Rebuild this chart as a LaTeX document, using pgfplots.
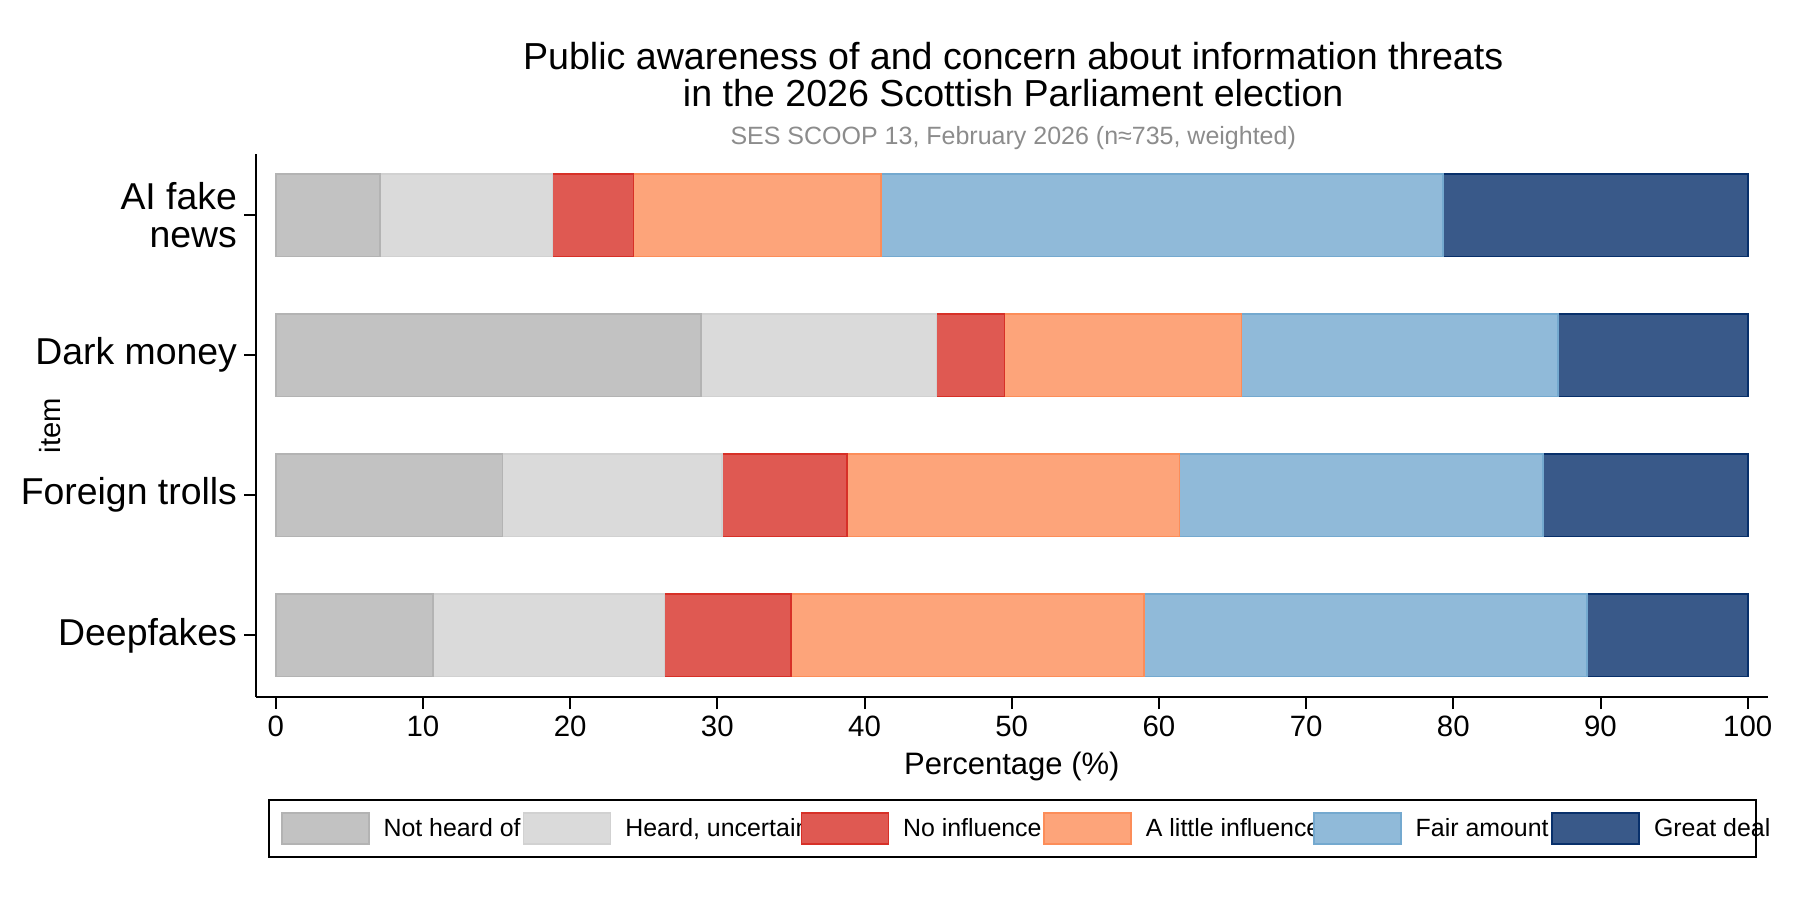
\documentclass[border=0pt]{standalone}
\usepackage{fontspec}
\setmainfont{Liberation Sans}
\usepackage{pgfplots}
\pgfplotsset{compat=1.18}
\definecolor{cNot}{RGB}{179,179,179}
\definecolor{cHeard}{RGB}{209,209,209}
\definecolor{cNo}{RGB}{215,48,39}
\definecolor{cLittle}{RGB}{252,141,89}
\definecolor{cFair}{RGB}{116,169,207}
\definecolor{cGreat}{RGB}{8,48,107}
\definecolor{subgrey}{RGB}{140,140,140}
\begin{document}
\begin{tikzpicture}
\useasboundingbox (0,0) rectangle (900bp,450bp);
\node[anchor=base, font=\fontsize{18.8bp}{20bp}\selectfont] at (506.6bp,415.0bp) {Public awareness of and concern about information threats};
\node[anchor=base, font=\fontsize{18.8bp}{20bp}\selectfont] at (506.6bp,396.8bp) {in the 2026 Scottish Parliament election};
\node[anchor=base, font=\fontsize{12.5bp}{14bp}\selectfont, text=subgrey] at (506.6bp,377.7bp) {SES SCOOP 13, February 2026 (n≈735, weighted)};
\begin{axis}[
  at={(128bp,101.5bp)}, anchor=south west,
  scale only axis, width=755.85bp, height=271.5bp,
  xbar stacked, bar width=0.59,
  xmin=-1.34, xmax=101.36, ymin=-0.44, ymax=3.436,
  axis lines*=left,
  axis line style={line width=1bp, black},
  tick align=outside,
  major tick length=6bp,
  major tick style={line width=1bp, black},
  xtick={0,10,...,100},
  ytick={0,1,2,3},
  yticklabels={Deepfakes, Foreign trolls, Dark money, {AI fake\\news}},
  /pgf/number format/assume math mode=true,
  xticklabel style={font=\fontsize{14.7bp}{17bp}\selectfont},
  yticklabel style={font=\fontsize{18.7bp}{19bp}\selectfont, align=right},
  xlabel={Percentage (\%)},
  xlabel style={font=\fontsize{15.5bp}{17bp}\selectfont, at={(axis description cs:0.5,-0.142)}, anchor=base},
  ylabel={item},
  ylabel style={font=\fontsize{14.6bp}{17bp}\selectfont, at={(axis description cs:-0.1363,0.5)}, anchor=center},
  legend image code/.code={\draw[#1, line width=0.8bp] (0bp,-7.65bp) rectangle (43.5bp,7.65bp);},
  legend columns=6,
  legend style={at={(axis description cs:0.0079,-0.1878)}, anchor=north west,
    draw=black, line width=1bp, inner xsep=6bp, inner ysep=6.2bp,
    font=\fontsize{12.45bp}{14bp}\selectfont,
    nodes={inner xsep=0pt},
    /tikz/every odd column/.append style={column sep=7bp},
    /tikz/every even column/.append style={column sep=0bp}},
  legend cell align=left,
]
\addplot[fill=cNot!80!white, draw=cNot, line width=0.8bp] coordinates {(10.7,0) (15.4,1) (28.9,2) (7.1,3)};
\addlegendentry{\makebox[69.6bp][l]{Not heard of}}
\addplot[fill=cHeard!80!white, draw=cHeard, line width=0.8bp] coordinates {(15.7,0) (14.9,1) (16.0,2) (11.7,3)};
\addlegendentry{\makebox[87.6bp][l]{Heard, uncertain}}
\addplot[fill=cNo!80!white, draw=cNo, line width=0.8bp] coordinates {(8.6,0) (8.5,1) (4.6,2) (5.5,3)};
\addlegendentry{\makebox[70.1bp][l]{No influence}}
\addplot[fill=cLittle!80!white, draw=cLittle, line width=0.8bp] coordinates {(24.0,0) (22.6,1) (16.1,2) (16.8,3)};
\addlegendentry{\makebox[83.6bp][l]{A little influence}}
\addplot[fill=cFair!80!white, draw=cFair, line width=0.8bp] coordinates {(30.1,0) (24.7,1) (21.5,2) (38.2,3)};
\addlegendentry{\makebox[67.85bp][l]{Fair amount}}
\addplot[fill=cGreat!80!white, draw=cGreat, line width=0.8bp] coordinates {(10.9,0) (13.9,1) (12.9,2) (20.7,3)};
\addlegendentry{\makebox[44.85bp][l]{Great deal}}
\end{axis}
\end{tikzpicture}
\end{document}
